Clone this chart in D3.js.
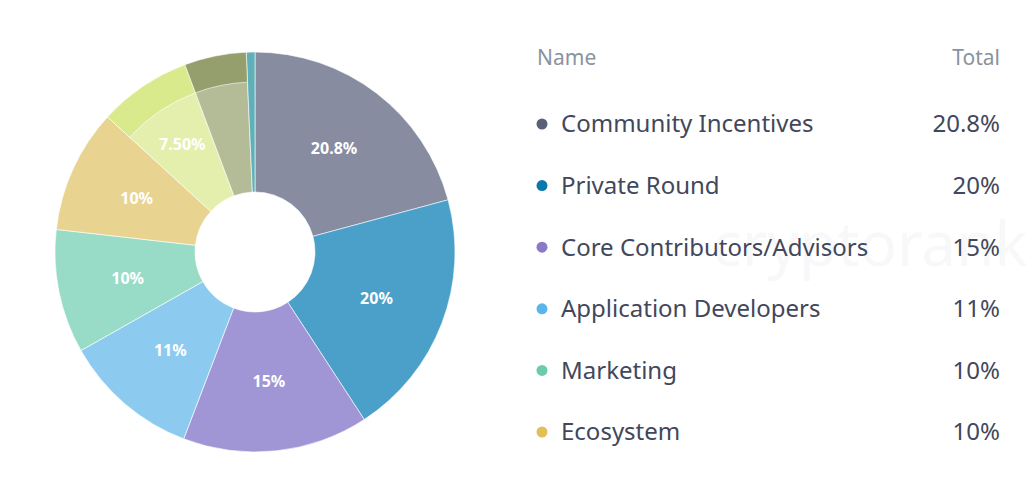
<!DOCTYPE html>
<html>
<head>
<meta charset="utf-8">
<script src="https://cdn.jsdelivr.net/npm/d3@7"></script>
<style>
  html, body { margin: 0; padding: 0; background: #fff; }
  svg { display: block; font-family: "Noto Sans", "Open Sans", sans-serif; }
</style>
</head>
<body>
<svg id="chart" width="1030" height="493"></svg>
<script>
// ---- data ----
const names = ["Community Incentives", "Private Round", "Core Contributors/Advisors",
  "Application Developers", "Marketing", "Ecosystem", "Other 7", "Other 8", "Other 9"];
const values = [20.8, 20, 15, 11, 10, 10, 7.5, 5, 0.7];
const sliceLabels = ["20.8%", "20%", "15%", "11%", "10%", "10%", "7.50%", "", ""];
const legendValues = ["20.8%", "20%", "15%", "11%", "10%", "10%"];
const legendColors = ["#5b6079", "#0a78ac", "#8a78c8", "#5ab6ea", "#6ccca9", "#e2bf58"];
const sliceColors = ["#878ca0", "#4aa0c9", "#a096d6", "#8ccbef", "#98dcc8", "#e8d490",
  "#e4efae", "#b4bb97", "#5fb0b8"];
const bandColors = [null, null, null, null, null, null, "#d9ea8c", "#959e6d", null];
const legendCount = 6;

// ---- chart ----
const svg = d3.select("#chart");
const cx = 255, cy = 252, R = 200, r0 = 60, rBand = 170;

const pie = d3.pie().sort(null).value(d => d.v);
const items = names.map((n, i) => ({ n, v: values[i], c: sliceColors[i], lab: sliceLabels[i], band: bandColors[i] }));
const arcs = pie(items);

const arc = d3.arc().innerRadius(r0).outerRadius(R);
const bandArc = d3.arc().innerRadius(rBand).outerRadius(R);
const labelArc = d3.arc().innerRadius(130).outerRadius(130);

// ---- watermark ----
svg.append("text")
  .attr("x", 712).attr("y", 266)
  .attr("font-size", 62)
  .attr("fill", "#f7f8fa")
  .text("cryptorank");

const g = svg.append("g").attr("transform", `translate(${cx},${cy})`);

g.selectAll("path.slice").data(arcs).enter().append("path")
  .attr("class", "slice")
  .attr("d", arc)
  .attr("fill", d => d.data.c)
  .attr("stroke", "#ffffff")
  .attr("stroke-width", 0.6);

g.selectAll("path.band").data(arcs.filter(d => d.data.band)).enter().append("path")
  .attr("class", "band")
  .attr("d", bandArc)
  .attr("fill", d => d.data.band)
  .attr("stroke", "#ffffff")
  .attr("stroke-width", 0.6);

g.selectAll("text.lab").data(arcs.filter(d => d.data.lab)).enter().append("text")
  .attr("class", "lab")
  .attr("transform", d => `translate(${labelArc.centroid(d)})`)
  .attr("text-anchor", "middle")
  .attr("dy", "0.35em")
  .attr("fill", "#ffffff")
  .attr("font-size", 16)
  .attr("font-weight", 700)
  .text(d => d.data.lab);

// ---- legend ----
const lx = 537, rx = 1000;
svg.append("text").attr("x", lx).attr("y", 65)
  .attr("font-size", 21).attr("fill", "#8a939e").text("Name");
svg.append("text").attr("x", rx).attr("y", 65).attr("text-anchor", "end")
  .attr("font-size", 21).attr("fill", "#8a939e").text("Total");

const rowY = d3.scalePoint().domain(d3.range(legendCount)).range([124, 432]);
const rows = svg.selectAll("g.row").data(items.slice(0, legendCount)).enter().append("g")
  .attr("class", "row")
  .attr("transform", (d, i) => `translate(0,${rowY(i)})`);
rows.append("circle").attr("cx", 542).attr("cy", 0).attr("r", 5.5).attr("fill", (d, i) => legendColors[i]);
rows.append("text").attr("x", 561).attr("dy", "0.35em")
  .attr("font-size", 24).attr("fill", "#42475b").text(d => d.n);
rows.append("text").attr("x", rx).attr("dy", "0.35em").attr("text-anchor", "end")
  .attr("font-size", 24).attr("fill", "#42475b").text((d, i) => legendValues[i]);
</script>
</body>
</html>
